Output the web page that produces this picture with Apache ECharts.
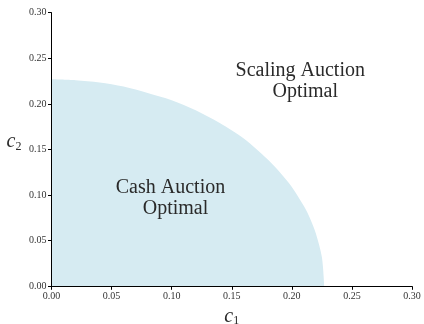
<!DOCTYPE html>
<html>
<head>
<meta charset="utf-8">
<script src="https://cdn.jsdelivr.net/npm/echarts@6/dist/echarts.min.js"></script>
<style>html,body{margin:0;padding:0;background:#fff}#c{width:424px;height:324px}</style>
</head>
<body>
<div id="c"></div>
<script>
// Boundary of the "Cash Auction Optimal" region
const c1Values = [0, 0.02, 0.04, 0.06, 0.08, 0.10, 0.12, 0.14, 0.16, 0.18, 0.19, 0.20, 0.21, 0.215, 0.22, 0.225, 0.227];
const c2Values = [0.227, 0.226, 0.2235, 0.219, 0.212, 0.204, 0.193, 0.179, 0.162, 0.139, 0.125, 0.109, 0.088, 0.075, 0.058, 0.032, 0];
const xTickLabels = ['0.00', '0.05', '0.10', '0.15', '0.20', '0.25', '0.30'];
const yTickLabels = ['0.00', '0.05', '0.10', '0.15', '0.20', '0.25', '0.30'];
const regionLabels = [
  { lines: ['Scaling Auction', 'Optimal'], at: [0.207, 0.236] },
  { lines: ['Cash Auction', 'Optimal'], at: [0.099, 0.108] }
];

const serif = "'Liberation Serif', 'DejaVu Serif', serif";
const chart = echarts.init(document.getElementById('c'), null, { renderer: 'canvas' });
const axisCommon = {
  type: 'value', min: 0, max: 0.3, interval: 0.05, z: 5,
  splitLine: { show: false },
  axisLine: { show: true, lineStyle: { color: '#000', width: 1 } },
  axisTick: { show: true, length: 3.5, lineStyle: { color: '#000', width: 1 } },
};
const nameRich = {
  c: { fontFamily: serif, fontStyle: 'italic', fontSize: 20, color: '#2a2a2a' },
  s: { fontFamily: serif, fontSize: 12, color: '#2a2a2a', padding: [10, 0, 0, 0] }
};
chart.setOption({
  animation: false,
  grid: { left: 51.5, right: 12, top: 12.7, bottom: 37.7, containLabel: false, outerBoundsMode: 'none' },
  xAxis: Object.assign({}, axisCommon, {
    axisLabel: { fontFamily: serif, fontSize: 10, color: '#333', margin: 5,
      formatter: v => xTickLabels[Math.round(v / 0.05)] },
    name: '{c|c}{s|1}', nameLocation: 'middle', nameGap: 19,
    nameTextStyle: { rich: nameRich }
  }),
  yAxis: Object.assign({}, axisCommon, {
    axisLabel: { fontFamily: serif, fontSize: 10, color: '#333', margin: 5,
      formatter: v => yTickLabels[Math.round(v / 0.05)] },
    name: '{c|c}{s|2}', nameLocation: 'middle', nameGap: 30, nameRotate: 0,
    nameTextStyle: { rich: nameRich, padding: [0, 0, 16, 0] }
  }),
  series: [{
    type: 'line', z: 1, showSymbol: false, symbol: 'none', smooth: 0.3,
    lineStyle: { width: 0, opacity: 0 },
    areaStyle: { color: '#d6ebf2', opacity: 1 },
    data: c1Values.map((x, i) => [x, c2Values[i]])
  }]
});

function placeLabels() {
  const g = [];
  regionLabels.forEach(r => {
    const p = chart.convertToPixel({ gridIndex: 0 }, r.at);
    r.lines.forEach((t, j) => {
      g.push({ type: 'text', x: p[0] + (j === 1 ? 5 : 0), y: p[1] + j * 21, z: 10,
        style: { text: t, font: "20px 'Liberation Serif', serif", fill: '#2a2a2a',
          align: 'center', verticalAlign: 'middle' } });
    });
  });
  chart.setOption({ graphic: g });
}
placeLabels();
</script>
</body>
</html>
